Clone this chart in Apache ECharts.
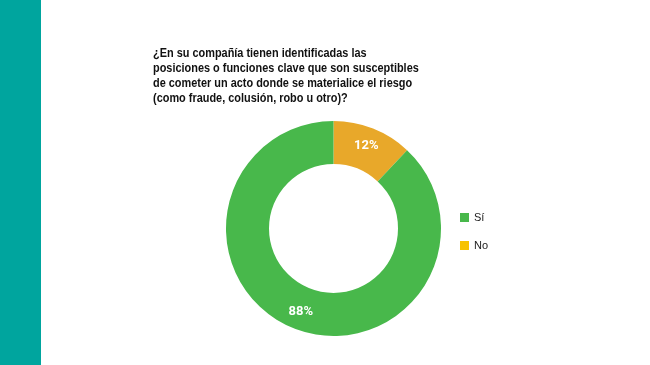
<!DOCTYPE html>
<html><head><meta charset="utf-8">
<script src="https://cdn.jsdelivr.net/npm/echarts@6/dist/echarts.min.js"></script>
<style>html,body{margin:0;padding:0;background:#fff;}#c{width:650px;height:365px;}</style>
</head><body><div id="c"></div>
<script>
const categories = ['Sí', 'No'];
const values = [88, 12];
const sliceColors = ['#48B84B', '#E8A82A'];
const legendColors = ['#48B84B', '#F7C200'];
const titleText = '¿En su compañía tienen identificadas las\nposiciones o funciones clave que son susceptibles\nde cometer un acto donde se materialice el riesgo\n(como fraude, colusión, robo u otro)?';

// pie draws "No" first so it starts at 12 o'clock going clockwise, as in the reference
const pieOrder = [1, 0];

const chart = echarts.init(document.getElementById('c'));
chart.setOption({
  backgroundColor: '#fff',
  graphic: [
    {type: 'rect', shape: {x: 0, y: 0, width: 41, height: 365}, style: {fill: '#00A59E'}, silent: true},
    {type: 'text', left: 153, top: 46, scaleX: 0.84, originX: 0, originY: 0,
     style: {text: titleText, fontFamily: 'Liberation Sans', fontWeight: 'bold', fontSize: 13, lineHeight: 15, fill: '#111'}}
  ],
  legend: {
    orient: 'vertical', left: 455, top: 207, itemWidth: 9, itemHeight: 9, itemGap: 17,
    icon: 'rect',
    textStyle: {fontFamily: 'Liberation Sans', fontSize: 11, color: '#222'},
    data: categories.map((c, i) => ({name: c, itemStyle: {color: legendColors[i]}}))
  },
  series: [{
    type: 'pie', center: [333.5, 228.5], radius: [64.5, 107.5],
    startAngle: 90, clockwise: true, silent: true,
    label: {position: 'inside', formatter: '{d}%', color: '#fff', fontFamily: 'Roboto', fontWeight: 'bold', fontSize: 13},
    labelLine: {show: false},
    data: pieOrder.map(i => ({name: categories[i], value: values[i], itemStyle: {color: sliceColors[i]}}))
  }]
});
</script></body></html>
